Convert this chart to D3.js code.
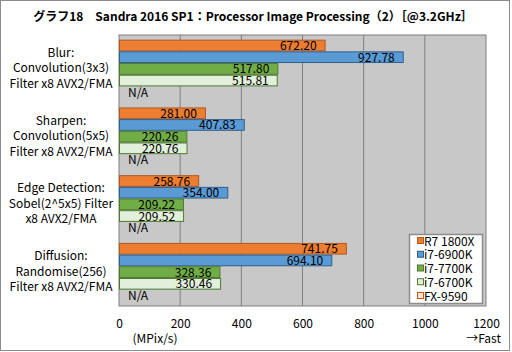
<!DOCTYPE html>
<html lang="ja">
<head>
    <meta charset="UTF-8">
    <title>Sandra 2016 SP1</title>
    <script src="https://d3js.org/d3.v7.min.js"></script>
    <style>
        body { margin: 0; background: #fff; }
        text { font-family: "Noto Sans CJK JP", "Noto Sans", sans-serif; }
    </style>
</head>
<body>
<script>
    const width  = 512;
    const height = 352;

    const categories = [
        ["Blur:", "Convolution(3x3)", "Filter x8 AVX2/FMA"],
        ["Sharpen:", "Convolution(5x5)", "Filter x8 AVX2/FMA"],
        ["Edge Detection:", "Sobel(2^5x5) Filter", "x8 AVX2/FMA"],
        ["Diffusion:", "Randomise(256)", "Filter x8 AVX2/FMA"]
    ];
    const seriesNames = ["R7 1800X", "i7-6900K", "i7-7700K", "i7-6700K", "FX-9590"];
    const r7_1800x = [672.20, 281.00, 258.76, 741.75];
    const i7_6900k = [927.78, 407.83, 354.00, 694.10];
    const i7_7700k = [517.80, 220.26, 209.22, 328.36];
    const i7_6700k = [515.81, 220.76, 209.52, 330.46];
    const fx_9590  = [null, null, null, null];
    const xTicks   = [0, 200, 400, 600, 800, 1000, 1200];

    const seriesValues = [r7_1800x, i7_6900k, i7_7700k, i7_6700k, fx_9590];
    const fills   = ["#ED7D31", "#5B9BD5", "#70AD47", "#E2EFDA", "#FBE5D6"];
    const strokes = ["#AE5A21", "#2E5F8F", "#4E7A30", "#4E7A30", "#C55A11"];

    const plot = {left: 119, right: 486, top: 35, bottom: 306};

    const svg = d3.select("body").append("svg").attr("width", width).attr("height", height);

    // outer frame
    svg.append("rect")
        .attr("x", 0.5).attr("y", 0.5)
        .attr("width", 509).attr("height", 350)
        .attr("fill", "#fff").attr("stroke", "#8c8c8c");

    svg.append("text")
        .attr("x", 253).attr("y", 21)
        .attr("text-anchor", "middle")
        .attr("font-size", 12).attr("font-weight", "bold")
        .text("グラフ18　Sandra 2016 SP1：Processor Image Processing（2）［@3.2GHz］");

    const x = d3.scaleLinear().domain([0, 1200]).range([plot.left, plot.right]);
    const y = d3.scaleBand().domain(d3.range(categories.length)).range([plot.top, plot.bottom]);
    const ySub = d3.scaleBand().domain(d3.range(seriesNames.length))
                   .range([0, y.bandwidth()]).paddingOuter(0.4);

    svg.append("rect")
        .attr("x", plot.left).attr("y", plot.top)
        .attr("width", plot.right - plot.left).attr("height", plot.bottom - plot.top)
        .attr("fill", "#c8c8c8");

    svg.append("g").selectAll("line").data(xTicks.slice(1, -1)).join("line")
        .attr("x1", d => x(d)).attr("x2", d => x(d))
        .attr("y1", plot.top).attr("y2", plot.bottom)
        .attr("stroke", "#7f7f7f");

    svg.append("rect")
        .attr("x", plot.left).attr("y", plot.top)
        .attr("width", plot.right - plot.left).attr("height", plot.bottom - plot.top)
        .attr("fill", "none").attr("stroke", "#7f7f7f");

    const groups = svg.append("g").selectAll("g").data(seriesValues).join("g");

    groups.each(function(vals, si) {
        const g = d3.select(this);
        vals.forEach((v, ci) => {
            const by = y(ci) + ySub(si);
            const bh = ySub.bandwidth();
            if (v === null) {
                g.append("text")
                    .attr("x", x(0) + 9).attr("y", by + bh / 2 + 4.5)
                    .attr("font-size", 12)
                    .text("N/A");
                return;
            }
            g.append("rect")
                .attr("x", x(0) + 0.5).attr("y", by + 0.5)
                .attr("width", x(v) - x(0)).attr("height", bh - 1)
                .attr("fill", fills[si]).attr("stroke", strokes[si]);
            g.append("text")
                .attr("x", x(v) - 8).attr("y", by + bh / 2 + 4.5)
                .attr("text-anchor", "end").attr("font-size", 12)
                .attr("fill", "#000")
                .text(v.toFixed(2));
        });
    });

    // category labels
    svg.append("g").selectAll("text").data(categories).join("text")
        .attr("text-anchor", "middle").attr("font-size", 12)
        .attr("fill", "#000")
        .each(function(lines, i) {
            const cy = y(i) + y.bandwidth() / 2 - 1;
            d3.select(this).selectAll("tspan").data(lines).join("tspan")
                .attr("x", 61)
                .attr("y", (d, j) => cy + (j - 1) * 15.5 + 4.5)
                .text(d => d);
        });

    // x axis
    const xAxis = svg.append("g")
        .attr("transform", `translate(0,${plot.bottom})`)
        .call(d3.axisBottom(x).tickValues(xTicks).tickFormat(d3.format("d"))
                .tickSize(0).tickPadding(13));
    xAxis.select(".domain").remove();
    xAxis.selectAll("text").attr("font-size", 12).attr("fill", "#000")
        .style("font-family", "'Noto Sans CJK JP', sans-serif");

    svg.append("text")
        .attr("x", 155).attr("y", 343)
        .attr("text-anchor", "middle").attr("font-size", 12)
        .text("(MPix/s)");
    svg.append("text")
        .attr("x", 501).attr("y", 343)
        .attr("text-anchor", "end").attr("font-size", 12)
        .text("→Fast");

    // legend
    const lg = svg.append("g").attr("transform", "translate(409,234)");
    lg.append("rect")
        .attr("x", 0.5).attr("y", 0.5).attr("width", 73).attr("height", 69)
        .attr("fill", "#fff").attr("stroke", "#8c8c8c").attr("stroke-width", 1.5);
    const items = lg.selectAll("g.item").data(seriesNames).join("g")
        .attr("class", "item")
        .attr("transform", (d, i) => `translate(0,${7 + i * 13.75})`);
    items.append("rect")
        .attr("x", 8.5).attr("y", -3.5).attr("width", 6).attr("height", 6)
        .attr("fill", (d, i) => fills[i]).attr("stroke", (d, i) => strokes[i]);
    items.append("text")
        .attr("x", 15).attr("y", 4.5).attr("font-size", 12)
        .text(d => d);
</script>
</body>
</html>
